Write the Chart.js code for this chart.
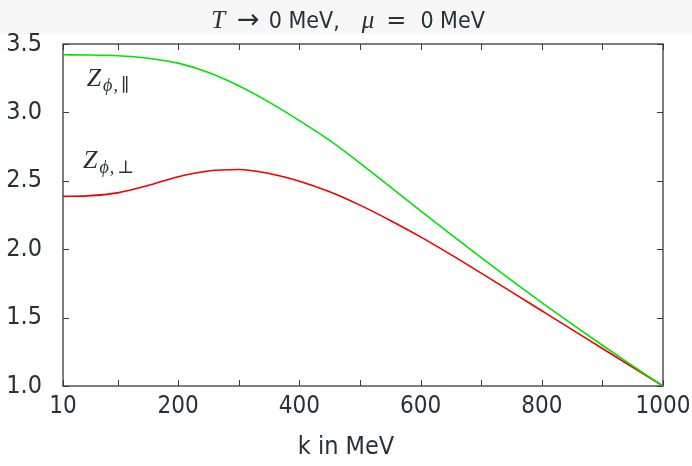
<!DOCTYPE html>
<html><head><meta charset="utf-8">
<script src="https://cdn.jsdelivr.net/npm/chart.js@4.4.0/dist/chart.umd.min.js"></script>
<style>html,body{margin:0;padding:0;background:#fff;} #wrap{width:692px;height:466px;position:relative;}</style>
</head><body><div id="wrap"><canvas id="c" width="692" height="466"></canvas></div>
<script>
const kValues = [10,50,100,150,200,250,300,350,400,450,500,550,600,650,700,750,800,850,900,950,1000];
const zPar  = [3.421,3.420,3.414,3.396,3.360,3.292,3.195,3.075,2.940,2.795,2.630,2.455,2.280,2.108,1.938,1.772,1.610,1.452,1.298,1.147,1.000];
const zPerp = [2.386,2.390,2.412,2.465,2.530,2.572,2.583,2.553,2.497,2.420,2.322,2.210,2.090,1.960,1.825,1.688,1.550,1.412,1.274,1.137,1.000];
const xTicks = [10,100,200,300,400,500,600,700,800,900,1000];
const xLabelTicks = [10,200,400,600,800,1000];
const yTicks = [1.0,1.5,2.0,2.5,3.0,3.5];
const xAxisTitle = 'k in MeV';

const SANS = "'DejaVu Sans Condensed','Liberation Sans Narrow','DejaVu Sans',sans-serif";
const SERIF = "'Liberation Serif','DejaVu Serif',serif";
const SYM = "'DejaVu Sans',sans-serif";
const TXT = '#263238';
const AXIS = '#3a3a3a';

const framePlugin = {
  id: 'frame',
  beforeDraw(chart) {
    const ctx = chart.ctx;
    ctx.save();
    ctx.fillStyle = '#f7f7f7';
    ctx.fillRect(0, 0, chart.width, 34);
    // title with mixed fonts: text, font, gap after
    const segs = [
      {t: 'T', f: 'italic 25px ' + SERIF, g: 12},
      {t: '\u2192', f: '27px ' + SYM, g: 9},
      {t: '0 MeV,', f: '23px ' + SANS, g: 22},
      {t: '\u03bc', f: 'italic 25px ' + SERIF, g: 12},
      {t: '=', f: '24px ' + SYM, g: 14},
      {t: '0 MeV', f: '23px ' + SANS, g: 0}
    ];
    let w = 0;
    segs.forEach(s => { ctx.font = s.f; s.w = ctx.measureText(s.t).width; w += s.w + s.g; });
    let x = chart.width / 2 - w / 2 + 2;
    ctx.fillStyle = TXT;
    ctx.textBaseline = 'alphabetic';
    segs.forEach(s => { ctx.font = s.f; ctx.fillText(s.t, x, 28); x += s.w + s.g; });
    // x axis title, centred on the canvas
    ctx.font = '25px ' + SANS;
    ctx.textAlign = 'center';
    ctx.textBaseline = 'middle';
    ctx.fillText(xAxisTitle, chart.width / 2, 447);
    ctx.restore();
  },
  beforeDatasetsDraw(chart) {
    const {ctx, chartArea: a, scales: {x, y}} = chart;
    ctx.save();
    ctx.strokeStyle = AXIS;
    ctx.lineWidth = 1.3;
    ctx.strokeRect(a.left, a.top, a.right - a.left, a.bottom - a.top);
    ctx.lineWidth = 1;
    const L = 6;
    ctx.beginPath();
    xTicks.forEach(v => {
      const px = Math.round(x.getPixelForValue(v)) + 0.5;
      ctx.moveTo(px, a.bottom); ctx.lineTo(px, a.bottom - L);
      ctx.moveTo(px, a.top); ctx.lineTo(px, a.top + L);
    });
    yTicks.forEach(v => {
      const py = Math.round(y.getPixelForValue(v)) + 0.5;
      ctx.moveTo(a.left, py); ctx.lineTo(a.left + L, py);
      ctx.moveTo(a.right, py); ctx.lineTo(a.right - L, py);
    });
    ctx.stroke();
    ctx.restore();
  },
  afterDatasetsDraw(chart) {
    const {ctx, scales: {x, y}} = chart;
    ctx.save();
    ctx.fillStyle = TXT;
    const drawLabel = (kx, vy, sub) => {
      const px = x.getPixelForValue(kx), py = y.getPixelForValue(vy);
      ctx.font = 'italic 26px ' + SERIF;
      ctx.fillText('Z', px, py);
      const zw = ctx.measureText('Z').width;
      ctx.font = 'italic 18px ' + SERIF;
      ctx.fillText('\u03d5', px + zw + 2, py + 5);
      let w2 = ctx.measureText('\u03d5').width;
      ctx.font = '18px ' + SERIF;
      ctx.fillText(',', px + zw + 2 + w2 + 1, py + 5);
      const cw = ctx.measureText(',').width;
      ctx.fillText(sub, px + zw + 2 + w2 + 1 + cw + 3, py + 5);
    };
    drawLabel(49, 3.19, '\u2225');
    drawLabel(43, 2.597, '\u22a5');
    ctx.restore();
  }
};

new Chart(document.getElementById('c'), {
  type: 'line',
  data: {
    labels: kValues,
    datasets: [
      {label: 'Z par', data: kValues.map((k, i) => ({x: k, y: zPar[i]})), borderColor: '#00e400', borderWidth: 1.6, pointRadius: 0, cubicInterpolationMode: 'monotone', fill: false},
      {label: 'Z perp', data: kValues.map((k, i) => ({x: k, y: zPerp[i]})), borderColor: '#f00000', borderWidth: 1.6, pointRadius: 0, cubicInterpolationMode: 'monotone', fill: false}
    ]
  },
  options: {
    responsive: false,
    animation: false,
    devicePixelRatio: 1,
    layout: {padding: {top: 44, right: 29, left: 0, bottom: 0}},
    plugins: {legend: {display: false}, tooltip: {enabled: false}, title: {display: false}},
    scales: {
      x: {
        type: 'linear', min: 10, max: 1000,
        afterBuildTicks: s => { s.ticks = xTicks.map(v => ({value: v})); },
        afterFit: s => { s.height = 80; s.paddingLeft = 0; s.paddingRight = 0; },
        grid: {display: false, drawTicks: false},
        border: {display: false},
        ticks: {autoSkip: false, maxRotation: 0, padding: 6, color: TXT, font: {family: SANS, size: 24},
          callback: v => xLabelTicks.includes(v) ? String(v) : ''},
        title: {display: false}
      },
      y: {
        type: 'linear', min: 1, max: 3.5,
        afterBuildTicks: s => { s.ticks = yTicks.map(v => ({value: v})); },
        afterFit: s => { s.width = 63; s.paddingTop = 0; s.paddingBottom = 0; },
        grid: {display: false, drawTicks: false},
        border: {display: false},
        ticks: {padding: 21, color: TXT, font: {family: SANS, size: 25}, callback: v => Number(v).toFixed(1)}
      }
    }
  },
  plugins: [framePlugin]
});
</script></body></html>
